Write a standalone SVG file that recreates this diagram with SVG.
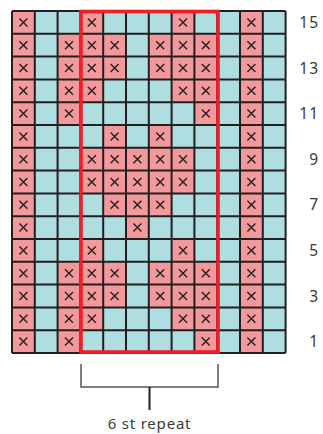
<svg xmlns="http://www.w3.org/2000/svg" xmlns:xlink="http://www.w3.org/1999/xlink" width="323" height="434" viewBox="0 0 323 434">
<style>
.lbl{font-family:"Noto Sans","Liberation Sans",sans-serif;font-size:15.5px;fill:#3a3a3a;text-anchor:end;letter-spacing:1px}
.cap{font-family:"Noto Sans","Liberation Sans",sans-serif;font-size:15px;fill:#3a3a3a;text-anchor:middle;letter-spacing:0.8px}
.gl{stroke:#231F20;stroke-width:2;fill:none}
</style>
<defs>
<g id="xc"><rect width="22.8" height="22.8" fill="#F4999B"/><path d="M7.4,7.4 L15.4,15.4 M15.4,7.4 L7.4,15.4" stroke="#231F20" stroke-width="1.4"/></g>
</defs>
<rect width="323" height="434" fill="#fff"/>
<g id="grid">
<rect x="12" y="11" width="273.6" height="342" fill="#AEDEE0"/>
<g id="row15" transform="translate(0,11)"><use xlink:href="#xc" x="12"/><use xlink:href="#xc" x="80.4"/><use xlink:href="#xc" x="171.6"/><use xlink:href="#xc" x="240"/></g>
<g id="row14" transform="translate(0,33.8)"><use xlink:href="#xc" x="12"/><use xlink:href="#xc" x="57.6"/><use xlink:href="#xc" x="80.4"/><use xlink:href="#xc" x="103.2"/><use xlink:href="#xc" x="148.8"/><use xlink:href="#xc" x="171.6"/><use xlink:href="#xc" x="194.4"/><use xlink:href="#xc" x="240"/></g>
<g id="row13" transform="translate(0,56.6)"><use xlink:href="#xc" x="12"/><use xlink:href="#xc" x="57.6"/><use xlink:href="#xc" x="80.4"/><use xlink:href="#xc" x="103.2"/><use xlink:href="#xc" x="148.8"/><use xlink:href="#xc" x="171.6"/><use xlink:href="#xc" x="194.4"/><use xlink:href="#xc" x="240"/></g>
<g id="row12" transform="translate(0,79.4)"><use xlink:href="#xc" x="12"/><use xlink:href="#xc" x="57.6"/><use xlink:href="#xc" x="80.4"/><use xlink:href="#xc" x="171.6"/><use xlink:href="#xc" x="194.4"/><use xlink:href="#xc" x="240"/></g>
<g id="row11" transform="translate(0,102.2)"><use xlink:href="#xc" x="12"/><use xlink:href="#xc" x="57.6"/><use xlink:href="#xc" x="194.4"/><use xlink:href="#xc" x="240"/></g>
<g id="row10" transform="translate(0,125)"><use xlink:href="#xc" x="12"/><use xlink:href="#xc" x="103.2"/><use xlink:href="#xc" x="148.8"/><use xlink:href="#xc" x="240"/></g>
<g id="row9" transform="translate(0,147.8)"><use xlink:href="#xc" x="12"/><use xlink:href="#xc" x="80.4"/><use xlink:href="#xc" x="103.2"/><use xlink:href="#xc" x="126"/><use xlink:href="#xc" x="148.8"/><use xlink:href="#xc" x="171.6"/><use xlink:href="#xc" x="240"/></g>
<g id="row8" transform="translate(0,170.6)"><use xlink:href="#xc" x="12"/><use xlink:href="#xc" x="80.4"/><use xlink:href="#xc" x="103.2"/><use xlink:href="#xc" x="126"/><use xlink:href="#xc" x="148.8"/><use xlink:href="#xc" x="171.6"/><use xlink:href="#xc" x="240"/></g>
<g id="row7" transform="translate(0,193.4)"><use xlink:href="#xc" x="12"/><use xlink:href="#xc" x="103.2"/><use xlink:href="#xc" x="126"/><use xlink:href="#xc" x="148.8"/><use xlink:href="#xc" x="240"/></g>
<g id="row6" transform="translate(0,216.2)"><use xlink:href="#xc" x="12"/><use xlink:href="#xc" x="126"/><use xlink:href="#xc" x="240"/></g>
<g id="row5" transform="translate(0,239)"><use xlink:href="#xc" x="12"/><use xlink:href="#xc" x="80.4"/><use xlink:href="#xc" x="171.6"/><use xlink:href="#xc" x="240"/></g>
<g id="row4" transform="translate(0,261.8)"><use xlink:href="#xc" x="12"/><use xlink:href="#xc" x="57.6"/><use xlink:href="#xc" x="80.4"/><use xlink:href="#xc" x="103.2"/><use xlink:href="#xc" x="148.8"/><use xlink:href="#xc" x="171.6"/><use xlink:href="#xc" x="194.4"/><use xlink:href="#xc" x="240"/></g>
<g id="row3" transform="translate(0,284.6)"><use xlink:href="#xc" x="12"/><use xlink:href="#xc" x="57.6"/><use xlink:href="#xc" x="80.4"/><use xlink:href="#xc" x="103.2"/><use xlink:href="#xc" x="148.8"/><use xlink:href="#xc" x="171.6"/><use xlink:href="#xc" x="194.4"/><use xlink:href="#xc" x="240"/></g>
<g id="row2" transform="translate(0,307.4)"><use xlink:href="#xc" x="12"/><use xlink:href="#xc" x="57.6"/><use xlink:href="#xc" x="80.4"/><use xlink:href="#xc" x="171.6"/><use xlink:href="#xc" x="194.4"/><use xlink:href="#xc" x="240"/></g>
<g id="row1" transform="translate(0,330.2)"><use xlink:href="#xc" x="12"/><use xlink:href="#xc" x="57.6"/><use xlink:href="#xc" x="194.4"/><use xlink:href="#xc" x="240"/></g>
<path class="gl" d="M12,11V353M34.8,11V353M57.6,11V353M80.4,11V353M103.2,11V353M126,11V353M148.8,11V353M171.6,11V353M194.4,11V353M217.2,11V353M240,11V353M262.8,11V353M285.6,11V353"/>
<path class="gl" d="M12,11H285.6M12,33.8H285.6M12,56.6H285.6M12,79.4H285.6M12,102.2H285.6M12,125H285.6M12,147.8H285.6M12,170.6H285.6M12,193.4H285.6M12,216.2H285.6M12,239H285.6M12,261.8H285.6M12,284.6H285.6M12,307.4H285.6M12,330.2H285.6M12,353H285.6"/>
</g>
<rect id="repeat-frame" x="81" y="11.5" width="137" height="340.5" fill="none" stroke="#EE1F26" stroke-width="3.6"/>
<g id="labels">
<text class="lbl" x="319" y="28">15</text>
<text class="lbl" x="319" y="73.6">13</text>
<text class="lbl" x="319" y="119.2">11</text>
<text class="lbl" x="319" y="164.8">9</text>
<text class="lbl" x="319" y="210.4">7</text>
<text class="lbl" x="319" y="256">5</text>
<text class="lbl" x="319" y="301.6">3</text>
<text class="lbl" x="319" y="347.2">1</text>
</g>
<g id="bracket">
<path d="M81,364V387H218V364" fill="none" stroke="#555" stroke-width="1.5"/>
<path d="M149.5,387V410" fill="none" stroke="#231F20" stroke-width="2"/>
<text class="cap" x="149.5" y="429">6 st repeat</text>
</g>
</svg>
